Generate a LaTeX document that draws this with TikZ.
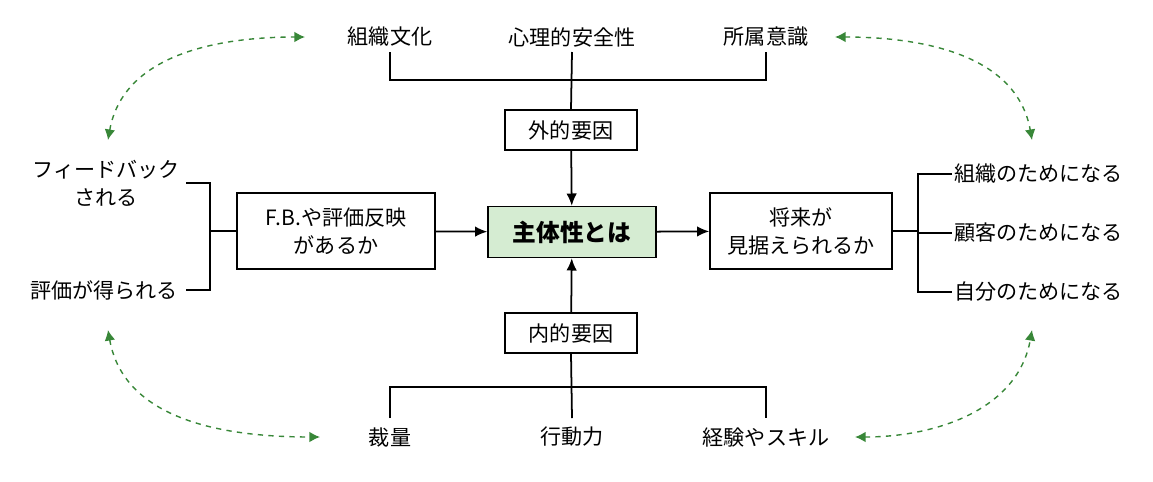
\documentclass[tikz,border=0pt]{standalone}
\usepackage{fontspec}
\setmainfont{Noto Sans CJK JP}
\usepackage{tikz}
\usetikzlibrary{arrows.meta}
\definecolor{mainfill}{RGB}{213,236,210}
\definecolor{dgreen}{RGB}{56,135,56}
\tikzset{
  box/.style={draw, line width=0.8pt, align=center, inner sep=0pt},
  lbl/.style={inner sep=1pt, align=center},
  link/.style={line width=1pt},
  push/.style={line width=1pt, -{Latex[length=7pt,width=6pt]}},
  loop/.style={dgreen, dashed, line width=0.8pt, {Latex[length=6pt,width=6pt]}-{Latex[length=6pt,width=6pt]}}
}
\begin{document}
\begin{tikzpicture}[x=0.02cm, y=-0.02cm, font=\fontsize{12}{16}\selectfont]
      \useasboundingbox (0,0) rectangle (1153,481);
      % centre
      \node[box, fill=mainfill, minimum width=168\pgflinewidth*0+3.36cm, minimum height=1.02cm, font=\fontsize{13.5}{16}\selectfont\bfseries] (main) at (572,232) {主体性とは};
      \node[box, minimum width=2.64cm, minimum height=0.8cm] (outer) at (571,130) {外的要因};
      \node[box, minimum width=2.64cm, minimum height=0.8cm] (inner) at (571,333) {内的要因};
      \node[box, minimum width=3.96cm, minimum height=1.52cm] (fb) at (336,231) {F.B.や評価反映\\があるか};
      \node[box, minimum width=3.64cm, minimum height=1.52cm] (future) at (801,231) {将来が\\見据えられるか};
      % top
      \node[lbl] (culture) at (390,37) {組織文化};
      \node[lbl] (safety) at (572,37) {心理的安全性};
      \node[lbl] (belong) at (766,37) {所属意識};
      \coordinate (tl) at (390,80);
      \coordinate (tm) at (572,80);
      \coordinate (tr) at (766,80);
      \draw[link] (culture.south |- 0,52) -- (tl) -- (tr) -- (belong.south |- 0,52);
      \draw[link] (safety.south |- 0,52) -- (outer.north);
      \draw[push] (outer) -- (main);
      % bottom
      \node[lbl] (scope) at (390,437) {裁量};
      \node[lbl] (action) at (572,437) {行動力};
      \node[lbl] (skill) at (766,437) {経験やスキル};
      \coordinate (bl) at (390,387);
      \coordinate (br) at (766,387);
      \draw[link] (scope.north |- 0,418) -- (bl) -- (br) -- (skill.north |- 0,418);
      \draw[link] (action.north |- 0,418) -- (inner.south);
      \draw[push] (inner) -- (main);
      % left
      \node[lbl, anchor=east] (feedback) at (182,183) {フィードバック\\される};
      \node[lbl, anchor=east] (rated) at (180,290) {評価が得られる};
      \coordinate (lt) at (210,183);
      \coordinate (lb) at (210,290);
      \draw[link] (186,183) -- (lt) -- (lb) -- (186,290);
      \draw[link] (210,231) -- (fb.west);
      \draw[push] (fb) -- (main);
      % right
      \node[lbl, anchor=west] (fororg) at (952,174) {組織のためになる};
      \node[lbl, anchor=west] (forcust) at (952,233) {顧客のためになる};
      \node[lbl, anchor=west] (forself) at (952,292) {自分のためになる};
      \coordinate (rt) at (918,174);
      \coordinate (rb) at (918,292);
      \draw[link] (fororg.west) -- (rt) -- (rb) -- (forself.west);
      \draw[link] (918,233) -- (forcust.west);
      \draw[link] (future.east) -- (918,231);
      \draw[push] (main) -- (future);
      % loops
      \coordinate (a1) at (108,140);
      \coordinate (a2) at (305,37);
      \coordinate (b1) at (835,37);
      \coordinate (b2) at (1032,140);
      \coordinate (c1) at (108,330);
      \coordinate (c2) at (320,437);
      \coordinate (d1) at (855,437);
      \coordinate (d2) at (1032,330);
      \draw[loop] (a1) to[out=80, in=180] (a2);
      \draw[loop] (b1) to[out=0, in=100] (b2);
      \draw[loop] (c1) to[out=-80, in=180] (c2);
      \draw[loop] (d1) to[out=0, in=-100] (d2);
    \end{tikzpicture}
\end{document}
